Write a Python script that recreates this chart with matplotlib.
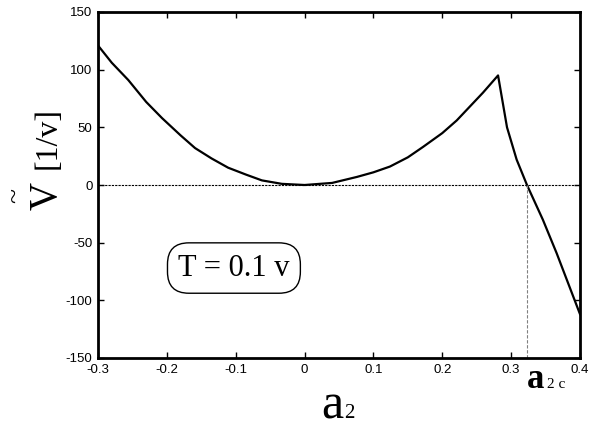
import matplotlib.pyplot as plt
from matplotlib.ticker import FuncFormatter

plt.rcParams['axes.unicode_minus'] = False

# potential curve
a2 = [-0.3, -0.28, -0.256, -0.23, -0.207, -0.18, -0.159, -0.135, -0.111, -0.085,
      -0.062, -0.033, 0.0, 0.04, 0.076, 0.1, 0.124, 0.15, 0.172, 0.2, 0.221,
      0.24, 0.259, 0.281, 0.294, 0.308, 0.323, 0.346, 0.366, 0.4]
v_tilde = [121, 106, 91, 72, 58, 43, 32, 23, 15, 9,
           4, 1, 0, 1.8, 7, 11, 16, 24, 33, 45, 56,
           68, 80, 95, 50, 22, 0, -30, -59, -112]
a2c = 0.323

xticks = [-0.3, -0.2, -0.1, 0, 0.1, 0.2, 0.3, 0.4]
yticks = [-150, -100, -50, 0, 50, 100, 150]

serif = 'Liberation Serif'
sans = 'Liberation Sans'

fig = plt.figure(figsize=(5.95, 4.36), dpi=100)
ax = fig.add_axes([98 / 595, 78 / 436, 482 / 595, 346 / 436])

ax.plot(a2, v_tilde, color='black', linewidth=1.6)
ax.axhline(0, color='black', linestyle=(0, (2, 1)), linewidth=0.8)
ax.plot([a2c, a2c], [-150, 0], color='gray', linestyle=(0, (3, 1.5)), linewidth=0.8)

ax.set_xlim(-0.3, 0.4)
ax.set_ylim(-150, 150)
ax.set_xticks(xticks)
ax.set_yticks(yticks)
ax.xaxis.set_major_formatter(FuncFormatter(lambda v, p: '%g' % round(v, 2)))
ax.tick_params(direction='in', top=True, right=True, length=4, width=1,
               labelsize=9.5, pad=4)
for lab in ax.get_xticklabels() + ax.get_yticklabels():
    lab.set_family(sans)
for sp in ax.spines.values():
    sp.set_linewidth(2)

# y label: V with tilde, then [1/v]
fig.text(47 / 595, 1 - 196 / 436, 'V', rotation=90, ha='center', va='center',
         family=serif, fontsize=28)
fig.text(17 / 595, 1 - 195 / 436, '~', rotation=90, ha='center', va='center',
         family=serif, fontsize=20)
fig.text(48 / 595, 1 - 138 / 436, '[1/v]', rotation=90, ha='center', va='center',
         family=serif, fontsize=23)

# x label a2
fig.text(332 / 595, 1 - 418 / 436, 'a', ha='center', va='baseline',
         family=serif, fontsize=36)
fig.text(349 / 595, 1 - 418 / 436, '2', ha='center', va='baseline',
         family=serif, fontsize=15)

# a2c marker label
fig.text(536 / 595, 1 - 388 / 436, 'a', ha='center', va='baseline',
         family=serif, fontsize=25, fontweight='bold')
fig.text(556 / 595, 1 - 388 / 436, '2 c', ha='center', va='baseline',
         family=serif, fontsize=11)

ax.text(0.282, 0.26, 'T = 0.1 v', transform=ax.transAxes, ha='center', va='center',
        family=serif, fontsize=22,
        bbox=dict(boxstyle='round,pad=0.35,rounding_size=0.7', facecolor='white',
                  edgecolor='black', linewidth=1))

fig.savefig('out.png', dpi=100)
